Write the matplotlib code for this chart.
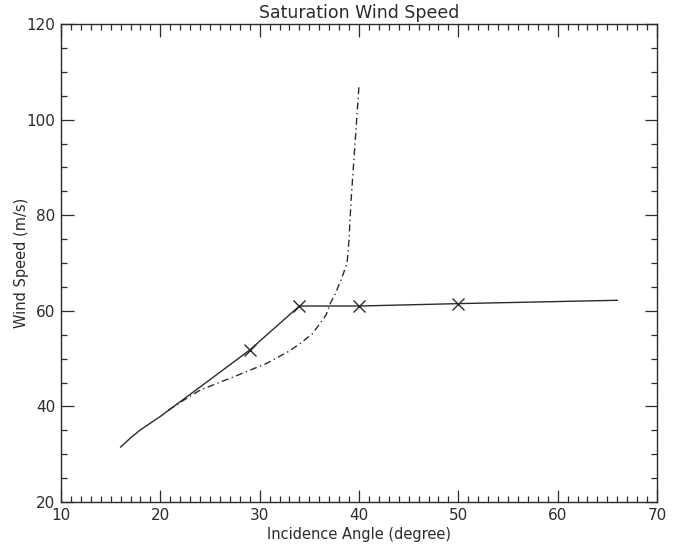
import matplotlib
matplotlib.use("Agg")
import matplotlib.pyplot as plt
from matplotlib.ticker import MultipleLocator

# Solid curve (saturation wind speed)
solid_x = [16.0, 17.0, 18.0, 20.0, 25.0, 29.0, 34.0, 40.0, 50.0, 66.0]
solid_y = [31.5, 33.4, 35.1, 37.9, 45.6, 51.8, 61.0, 61.0, 61.5, 62.2]

# Cross markers
mark_x = [29.0, 34.0, 40.0, 50.0]
mark_y = [51.8, 61.0, 61.0, 61.5]

# Dash-dot curve
dd_x = [20.8, 22.5, 24.0, 27.4, 30.7, 33.0, 34.1, 35.3, 36.1, 36.7, 37.1, 37.6, 38.2, 38.8, 39.0, 39.2, 39.5, 39.8, 40.0]
dd_y = [39.2, 41.5, 43.4, 46.2, 49.0, 51.6, 53.2, 55.2, 57.4, 59.2, 61.5, 63.5, 66.5, 70.0, 75.0, 83.0, 92.0, 101.0, 107.2]

title = "Saturation Wind Speed"
xlabel = "Incidence Angle (degree)"
ylabel = "Wind Speed (m/s)"

ink = "#2b2b2b"

fig = plt.figure(figsize=(6.79, 5.48), dpi=100)
ax = fig.add_axes([61/679, 1-502/548, (657-61)/679, (502-24)/548])

ax.plot(solid_x, solid_y, color=ink, lw=1.0, solid_joinstyle="round")
ax.plot(mark_x, mark_y, linestyle="none", marker="x", markersize=8,
        markeredgewidth=1.0, color=ink)
ax.plot(dd_x, dd_y, color=ink, lw=1.0, linestyle=(0, (5, 2.5, 1, 2.5)))

ax.set_xlim(10, 70)
ax.set_ylim(20, 120)
ax.xaxis.set_major_locator(MultipleLocator(10))
ax.xaxis.set_minor_locator(MultipleLocator(1))
ax.yaxis.set_major_locator(MultipleLocator(20))
ax.yaxis.set_minor_locator(MultipleLocator(5))

ax.tick_params(which="both", direction="in", top=True, right=True,
               colors=ink, labelcolor=ink, labelsize=11, width=0.9)
ax.tick_params(which="major", length=9, pad=4)
ax.tick_params(which="minor", length=4.5)
for s in ax.spines.values():
    s.set_color(ink)
    s.set_linewidth(1.0)

ax.set_title(title, fontsize=12.5, color=ink, pad=4)
ax.set_xlabel(xlabel, fontsize=10.5, color=ink, labelpad=3)
ax.set_ylabel(ylabel, fontsize=10.5, color=ink, labelpad=-2)

fig.savefig("out.png", dpi=100)
